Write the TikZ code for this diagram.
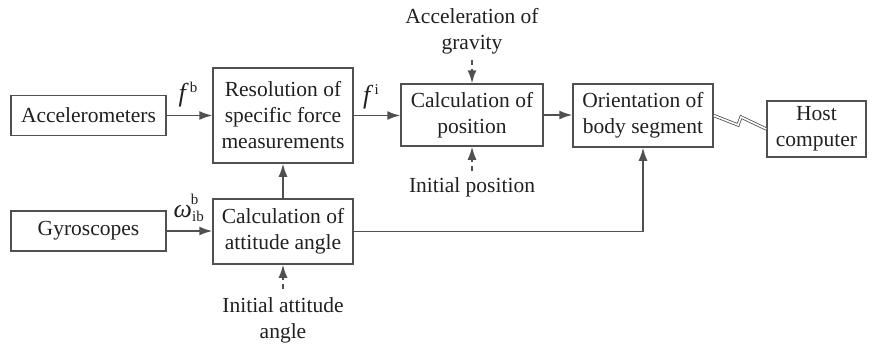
\documentclass[tikz,border=0pt]{standalone}
\usepackage{fontspec}
\setmainfont{Liberation Serif}
\newfontfamily\tms{Liberation Serif}
\usetikzlibrary{arrows.meta}
\definecolor{ln}{HTML}{505050}
\definecolor{tx}{HTML}{202020}
\tikzset{
  blk/.style={draw=ln, line width=1.5pt, inner sep=0pt, align=center, text=tx, font=\tms\fontsize{21.5}{26}\selectfont},
  lbl/.style={inner sep=0pt, align=center, text=tx, font=\tms\fontsize{21.5}{26}\selectfont},
  con/.style={draw=ln, line width=1.5pt, -{Latex[length=13pt,width=9pt]}},
  dcon/.style={draw=ln, line width=1.5pt, dash pattern=on 5pt off 4pt, -{Latex[length=13pt,width=9pt]}},
  ml/.style={inner sep=0pt, text=tx, font=\tms\fontsize{26}{30}\selectfont}
}
\begin{document}
\begin{tikzpicture}[x=1pt,y=-1pt]
\useasboundingbox (0,0) rectangle (872,345);
\node[blk, minimum width=155pt, minimum height=40pt] (acc) at (88.5,115.5) {Accelerometers};
\node[blk, minimum width=155pt, minimum height=40pt] (gyr) at (88.5,231) {Gyroscopes};
\node[blk, minimum width=140pt, minimum height=95pt] (res) at (283,115.5) {Resolution of\\specific force\\measurements};
\node[blk, minimum width=140pt, minimum height=65pt] (att) at (283,231.5) {Calculation of\\attitude angle};
\node[blk, minimum width=142pt, minimum height=62pt] (pos) at (472,115) {Calculation of\\position};
\node[blk, minimum width=140pt, minimum height=63pt] (ori) at (643,115.5) {Orientation of\\body segment};
\node[blk, minimum width=99pt, minimum height=56pt] (host) at (816.5,129) {Host\\computer};
\node[lbl] (grav) at (472,31) {Acceleration of\\gravity};
\node[lbl] (ipos) at (472,187) {Initial position};
\node[lbl] (iatt) at (283,320) {Initial attitude\\angle};
\node[ml] (fb) at (188,95) {\textit{f}\kern1.2pt\raisebox{9pt}{\fontsize{15}{15}\selectfont b}};
\node[ml] (wb) at (186,208) {\textit{ω}\raisebox{-4pt}{\fontsize{15}{15}\selectfont ib}\kern-13pt\raisebox{13pt}{\fontsize{15}{15}\selectfont b}};
\node[ml] (fi) at (371,97) {\textit{f}\kern1.2pt\raisebox{9pt}{\fontsize{15}{15}\selectfont i}};
\draw[con] (acc.east) -- (acc.east -| res.west);
\draw[con] (gyr.east) -- (gyr.east -| att.west);
\draw[con] (att.north) -- (res.south);
\draw[con] (res.east) -- (res.east -| pos.west);
\draw[con] (pos.east) -- (pos.east -| ori.west);
\draw[con] (att.east) -- (att.east -| ori.south) -- (ori.south);
\draw[dcon] (grav.south) ++(0,6) -- (pos.north);
\draw[dcon] (ipos.north) ++(0,-6) -- (pos.south);
\draw[dcon] (iatt.north) ++(0,-8) -- (att.south);
\draw[draw=ln, line width=0.8pt, double=white, double distance=1.6pt] (ori.east) -- (738,125) -- (741,117) -- (host.west);
\end{tikzpicture}
\end{document}
